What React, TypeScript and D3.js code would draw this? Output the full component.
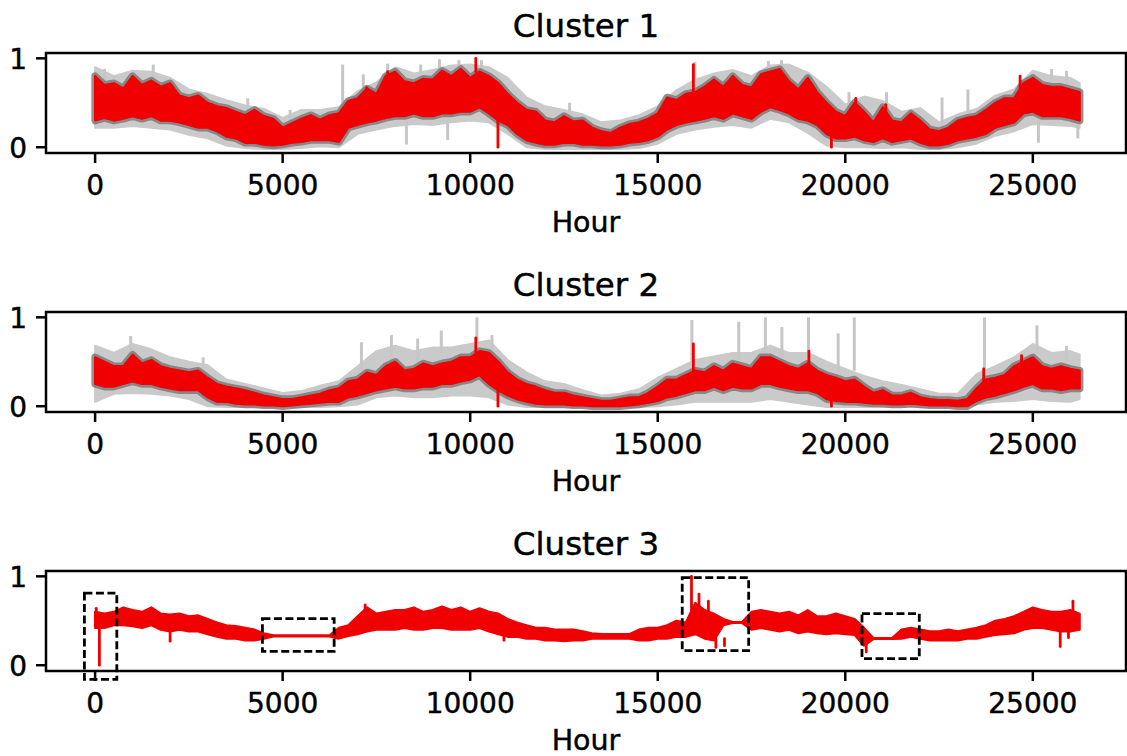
import React, { useEffect, useRef } from 'react';
import * as d3 from 'd3';

// sample grid (hours) for the centroid band and the member envelope
const hours = [
    0, 250, 500, 750, 1000, 1250, 1500, 1750, 2000, 2250,
    2500, 2750, 3000, 3250, 3500, 3750, 4000, 4250, 4500, 4750,
    5000, 5250, 5500, 5750, 6000, 6250, 6500, 6750, 7000, 7250,
    7500, 7750, 8000, 8250, 8500, 8750, 9000, 9250, 9500, 9750,
    10000, 10250, 10500, 10750, 11000, 11250, 11500, 11750, 12000, 12250,
    12500, 12750, 13000, 13250, 13500, 13750, 14000, 14250, 14500, 14750,
    15000, 15250, 15500, 15750, 16000, 16250, 16500, 16750, 17000, 17250,
    17500, 17750, 18000, 18250, 18500, 18750, 19000, 19250, 19500, 19750,
    20000, 20250, 20500, 20750, 21000, 21250, 21500, 21750, 22000, 22250,
    22500, 22750, 23000, 23250, 23500, 23750, 24000, 24250, 24500, 24750,
    25000, 25250, 25500, 25750, 26000, 26250,
];
const grayHours = [
    0, 500, 1000, 1500, 2000, 2500, 3000, 3500, 4000, 4500,
    5000, 5500, 6000, 6500, 7000, 7500, 8000, 8500, 9000, 9500,
    10000, 10500, 11000, 11500, 12000, 12500, 13000, 13500, 14000, 14500,
    15000, 15500, 16000, 16500, 17000, 17500, 18000, 18500, 19000, 19500,
    20000, 20500, 21000, 21500, 22000, 22500, 23000, 23500, 24000, 24500,
    25000, 25500, 26000, 26250,
];

// Cluster 1
const c1RedHi = [
    0.80, 0.70, 0.72, 0.66, 0.80, 0.70, 0.75, 0.68, 0.72, 0.58,
    0.55, 0.58, 0.50, 0.46, 0.44, 0.40, 0.36, 0.42, 0.35, 0.32,
    0.22, 0.27, 0.32, 0.36, 0.31, 0.36, 0.38, 0.52, 0.55, 0.66,
    0.60, 0.80, 0.85, 0.74, 0.72, 0.77, 0.76, 0.86, 0.80, 0.88,
    0.78, 0.85, 0.80, 0.72, 0.60, 0.50, 0.42, 0.40, 0.30, 0.28,
    0.35, 0.29, 0.30, 0.22, 0.18, 0.16, 0.22, 0.26, 0.28, 0.32,
    0.38, 0.56, 0.53, 0.60, 0.62, 0.68, 0.76, 0.68, 0.80, 0.70,
    0.67, 0.82, 0.85, 0.88, 0.74, 0.65, 0.78, 0.62, 0.50, 0.40,
    0.35, 0.50, 0.40, 0.28, 0.45, 0.30, 0.28, 0.38, 0.30, 0.20,
    0.18, 0.22, 0.30, 0.33, 0.35, 0.42, 0.50, 0.55, 0.55, 0.72,
    0.78, 0.70, 0.68, 0.68, 0.65, 0.62,
];
const c1RedLo = [
    0.30, 0.33, 0.30, 0.32, 0.35, 0.32, 0.35, 0.30, 0.30, 0.28,
    0.25, 0.22, 0.22, 0.18, 0.12, 0.10, 0.05, 0.05, 0.03, 0.02,
    0.03, 0.05, 0.06, 0.08, 0.08, 0.08, 0.06, 0.22, 0.25, 0.28,
    0.30, 0.33, 0.35, 0.35, 0.38, 0.35, 0.35, 0.38, 0.38, 0.40,
    0.40, 0.45, 0.38, 0.30, 0.25, 0.15, 0.08, 0.05, 0.03, 0.03,
    0.05, 0.05, 0.03, 0.03, 0.02, 0.02, 0.03, 0.05, 0.06, 0.08,
    0.12, 0.20, 0.25, 0.28, 0.30, 0.32, 0.35, 0.32, 0.38, 0.35,
    0.32, 0.40, 0.45, 0.42, 0.38, 0.32, 0.30, 0.25, 0.15, 0.10,
    0.10, 0.12, 0.08, 0.06, 0.10, 0.06, 0.08, 0.10, 0.05, 0.02,
    0.02, 0.04, 0.08, 0.10, 0.12, 0.15, 0.22, 0.25, 0.28, 0.38,
    0.40, 0.35, 0.35, 0.35, 0.33, 0.30,
];
const c1GrayHi = [
    0.90, 0.80, 0.86, 0.85, 0.78, 0.65, 0.60, 0.53, 0.47, 0.43,
    0.33, 0.42, 0.42, 0.45, 0.63, 0.73, 0.90, 0.83, 0.87, 0.92,
    0.93, 0.90, 0.78, 0.56, 0.46, 0.42, 0.37, 0.28, 0.30, 0.36,
    0.46, 0.64, 0.76, 0.83, 0.87, 0.80, 0.92, 0.93, 0.84, 0.68,
    0.48, 0.57, 0.52, 0.40, 0.44, 0.28, 0.37, 0.43, 0.58, 0.65,
    0.86, 0.80, 0.78, 0.72,
];
const c1GrayLo = [
    0.22, 0.22, 0.24, 0.22, 0.20, 0.14, 0.10, 0.02, -0.01, -0.02,
    -0.02, -0.01, 0.01, 0.00, 0.15, 0.20, 0.24, 0.26, 0.25, 0.28,
    0.30, 0.28, 0.15, 0.00, -0.02, -0.02, -0.02, -0.02, -0.02, -0.01,
    0.04, 0.15, 0.20, 0.23, 0.25, 0.22, 0.32, 0.28, 0.16, 0.02,
    0.00, 0.00, -0.01, 0.00, -0.02, -0.02, 0.00, 0.04, 0.13, 0.18,
    0.26, 0.25, 0.24, 0.22,
];
// [hour, from, to]
const c1RedSpikes = [
    [10150, 0.85, 1.0], [15950, 0.6, 0.93], [10740, 0.3, 0.0],
    [19630, 0.3, 0.0], [24660, 0.5, 0.8], [7240, 0.5, 0.67],
    [7800, 0.6, 0.85], [20280, 0.3, 0.55], [21080, 0.3, 0.48],
];
const c1GraySpikes = [
    [250, 0.7, 0.88], [1550, 0.75, 0.93], [4070, 0.3, 0.55], [5200, 0.25, 0.42],
    [6600, 0.4, 0.93], [7150, 0.5, 0.82], [7800, 0.7, 0.94], [8680, 0.7, 0.93],
    [9180, 0.7, 0.99], [9700, 0.85, 0.98], [10300, 0.85, 0.98], [12650, 0.3, 0.5],
    [15990, 0.7, 0.96], [17950, 0.85, 0.97], [18300, 0.88, 0.98], [20100, 0.4, 0.62],
    [21100, 0.45, 0.62], [22580, 0.2, 0.56], [23270, 0.3, 0.65], [25500, 0.75, 0.88],
    [25900, 0.7, 0.86], [8300, 0.3, 0.03], [9400, 0.3, 0.08], [25150, 0.3, 0.05],
    [26200, 0.25, 0.1],
];

// Cluster 2
const c2RedHi = [
    0.55, 0.50, 0.45, 0.45, 0.58, 0.48, 0.52, 0.45, 0.42, 0.40,
    0.38, 0.40, 0.32, 0.25, 0.22, 0.20, 0.18, 0.15, 0.12, 0.10,
    0.08, 0.08, 0.10, 0.12, 0.14, 0.18, 0.20, 0.28, 0.30, 0.38,
    0.35, 0.45, 0.50, 0.40, 0.42, 0.48, 0.45, 0.48, 0.50, 0.55,
    0.55, 0.62, 0.60, 0.50, 0.38, 0.30, 0.25, 0.22, 0.18, 0.15,
    0.15, 0.12, 0.10, 0.08, 0.06, 0.06, 0.08, 0.10, 0.10, 0.15,
    0.22, 0.30, 0.30, 0.35, 0.40, 0.38, 0.45, 0.40, 0.48, 0.45,
    0.42, 0.55, 0.55, 0.50, 0.45, 0.42, 0.48, 0.40, 0.35, 0.32,
    0.28, 0.30, 0.22, 0.15, 0.18, 0.12, 0.12, 0.15, 0.10, 0.08,
    0.07, 0.07, 0.06, 0.08, 0.20, 0.30, 0.32, 0.35, 0.45, 0.50,
    0.55, 0.45, 0.42, 0.45, 0.42, 0.40,
];
const c2RedLo = [
    0.25, 0.22, 0.22, 0.25, 0.28, 0.25, 0.25, 0.22, 0.20, 0.18,
    0.18, 0.18, 0.10, 0.05, 0.05, 0.03, 0.02, 0.02, 0.01, 0.01,
    0.00, 0.01, 0.02, 0.03, 0.04, 0.05, 0.05, 0.10, 0.12, 0.15,
    0.18, 0.20, 0.22, 0.20, 0.20, 0.22, 0.22, 0.25, 0.25, 0.28,
    0.30, 0.35, 0.25, 0.18, 0.12, 0.08, 0.05, 0.03, 0.02, 0.02,
    0.02, 0.01, 0.01, 0.00, 0.00, 0.00, 0.00, 0.01, 0.02, 0.04,
    0.06, 0.10, 0.12, 0.15, 0.18, 0.18, 0.22, 0.18, 0.22, 0.20,
    0.20, 0.25, 0.25, 0.22, 0.20, 0.18, 0.18, 0.15, 0.08, 0.06,
    0.05, 0.05, 0.04, 0.03, 0.03, 0.02, 0.02, 0.03, 0.02, 0.01,
    0.01, 0.01, 0.00, 0.00, 0.06, 0.10, 0.12, 0.15, 0.18, 0.22,
    0.25, 0.20, 0.20, 0.18, 0.20, 0.20,
];
const c2GrayHi = [
    0.68, 0.60, 0.70, 0.64, 0.55, 0.50, 0.46, 0.30, 0.25, 0.20,
    0.15, 0.17, 0.23, 0.28, 0.45, 0.62, 0.68, 0.62, 0.66, 0.66,
    0.70, 0.74, 0.52, 0.38, 0.28, 0.25, 0.18, 0.12, 0.14, 0.19,
    0.32, 0.42, 0.52, 0.56, 0.60, 0.60, 0.68, 0.60, 0.60, 0.50,
    0.42, 0.34, 0.28, 0.24, 0.19, 0.14, 0.14, 0.36, 0.45, 0.55,
    0.70, 0.60, 0.62, 0.58,
];
const c2GrayLo = [
    0.05, 0.14, 0.15, 0.14, 0.12, 0.08, 0.00, -0.01, -0.01, -0.01,
    -0.01, -0.01, -0.01, 0.00, 0.02, 0.10, 0.12, 0.10, 0.10, 0.12,
    0.12, 0.10, 0.02, -0.01, -0.01, -0.01, -0.01, -0.01, -0.01, -0.01,
    0.00, 0.02, 0.05, 0.05, 0.05, 0.05, 0.08, 0.05, 0.02, -0.01,
    -0.01, -0.01, -0.01, -0.01, -0.01, -0.01, -0.01, 0.02, 0.05, 0.06,
    0.08, 0.06, 0.05, 0.08,
];
const c2RedSpikes = [
    [10150, 0.6, 0.77], [15950, 0.4, 0.70], [19030, 0.45, 0.62], [10740, 0.2, 0.0],
    [19630, 0.15, 0.0], [23690, 0.1, 0.42], [24700, 0.4, 0.57],
];
const c2GraySpikes = [
    [950, 0.6, 0.79], [2880, 0.45, 0.55], [7100, 0.4, 0.72], [7900, 0.5, 0.80],
    [8600, 0.5, 0.76], [9230, 0.6, 0.85], [10180, 0.7, 1.0], [10580, 0.6, 0.80],
    [15910, 0.5, 0.97], [17160, 0.5, 0.95], [17870, 0.55, 1.0], [18310, 0.5, 0.89],
    [19020, 0.55, 1.0], [19810, 0.4, 0.82], [20240, 0.4, 1.0], [23710, 0.2, 1.0],
    [25110, 0.6, 0.91], [25900, 0.5, 0.68],
];

// Cluster 3
const c3RedHi = [
    0.60, 0.58, 0.60, 0.65, 0.62, 0.60, 0.65, 0.58, 0.57, 0.58,
    0.55, 0.56, 0.52, 0.48, 0.45, 0.44, 0.42, 0.40, 0.36, 0.335,
    0.335, 0.335, 0.335, 0.335, 0.335, 0.335, 0.42, 0.45, 0.55, 0.65,
    0.58, 0.60, 0.62, 0.62, 0.65, 0.60, 0.62, 0.66, 0.62, 0.65,
    0.60, 0.64, 0.60, 0.58, 0.52, 0.48, 0.45, 0.42, 0.42, 0.40,
    0.40, 0.40, 0.38, 0.36, 0.35, 0.35, 0.35, 0.35, 0.40, 0.42,
    0.42, 0.45, 0.50, 0.48, 0.70, 0.62, 0.58, 0.52, 0.485, 0.485,
    0.60, 0.62, 0.60, 0.58, 0.60, 0.56, 0.62, 0.55, 0.55, 0.58,
    0.55, 0.52, 0.42, 0.305, 0.305, 0.305, 0.40, 0.42, 0.40, 0.38,
    0.38, 0.40, 0.38, 0.40, 0.42, 0.45, 0.50, 0.52, 0.55, 0.60,
    0.65, 0.62, 0.60, 0.60, 0.62, 0.58,
];
const c3RedLo = [
    0.42, 0.42, 0.45, 0.45, 0.44, 0.42, 0.45, 0.40, 0.38, 0.40,
    0.38, 0.38, 0.35, 0.32, 0.30, 0.30, 0.28, 0.28, 0.30, 0.325,
    0.325, 0.325, 0.325, 0.325, 0.325, 0.325, 0.30, 0.33, 0.35, 0.38,
    0.40, 0.40, 0.40, 0.42, 0.40, 0.40, 0.42, 0.42, 0.40, 0.40,
    0.40, 0.42, 0.38, 0.35, 0.32, 0.32, 0.30, 0.30, 0.28, 0.28,
    0.27, 0.28, 0.28, 0.30, 0.30, 0.30, 0.30, 0.30, 0.28, 0.28,
    0.30, 0.30, 0.32, 0.32, 0.35, 0.30, 0.28, 0.45, 0.475, 0.475,
    0.40, 0.42, 0.40, 0.38, 0.40, 0.36, 0.38, 0.36, 0.35, 0.36,
    0.35, 0.34, 0.22, 0.295, 0.295, 0.295, 0.30, 0.32, 0.30, 0.28,
    0.28, 0.28, 0.28, 0.30, 0.30, 0.32, 0.34, 0.35, 0.36, 0.40,
    0.42, 0.42, 0.40, 0.38, 0.38, 0.40,
];
const c3RedSpikes = [
    [115, 0.45, 0.0], [30, 0.5, 0.64], [2000, 0.38, 0.27], [7200, 0.5, 0.68],
    [10900, 0.35, 0.28], [15900, 0.5, 1.0], [16100, 0.5, 0.80], [16350, 0.5, 0.72],
    [16550, 0.3, 0.20], [16780, 0.3, 0.22], [20560, 0.3, 0.15], [25730, 0.4, 0.21],
    [25950, 0.4, 0.31], [26070, 0.5, 0.72],
];
// dashed boxes: [hourStart, hourEnd, low, high]
const c3Boxes = [
    [-285, 579, -0.16, 0.81],
    [4461, 6373, 0.155, 0.525],
    [15653, 17424, 0.165, 0.985],
    [20445, 21973, 0.075, 0.58],
];

const xTicks = [0, 5000, 10000, 15000, 20000, 25000];
const yTicks = [0, 1];
const titles = ['Cluster 1', 'Cluster 2', 'Cluster 3'];
const axisTops = [53, 312, 571];

const panels = [
    { redHi: c1RedHi, redLo: c1RedLo, grayHi: c1GrayHi, grayLo: c1GrayLo, redSpikes: c1RedSpikes, graySpikes: c1GraySpikes, boxes: [] as number[][] },
    { redHi: c2RedHi, redLo: c2RedLo, grayHi: c2GrayHi, grayLo: c2GrayLo, redSpikes: c2RedSpikes, graySpikes: c2GraySpikes, boxes: [] as number[][] },
    { redHi: c3RedHi, redLo: c3RedLo, grayHi: null, grayLo: null, redSpikes: c3RedSpikes, graySpikes: [] as number[][], boxes: c3Boxes },
];

const App: React.FC = () => {
    const svgRef = useRef<SVGSVGElement>(null);

    useEffect(() => {
        if (!svgRef.current) return;
        document.body.style.margin = '0';

        const width = 1127;
        const height = 756;
        const axH = 100;
        const font = "'DejaVu Sans', sans-serif";
        const red = '#f00000';

        const svg = d3.select(svgRef.current)
            .attr('width', width)
            .attr('height', height);
        svg.selectAll('*').remove();

        svg.append('rect').attr('width', width).attr('height', height).attr('fill', '#fff');

        const x = d3.scaleLinear().domain([-1309, 27484]).range([46, 1126]);

        const label = (g: any, tx: number, ty: number, txt: string, size: number, anchor: string) =>
            g.append('text')
                .attr('x', tx)
                .attr('y', ty)
                .attr('text-anchor', anchor)
                .style('font-family', font)
                .style('font-size', `${size}px`)
                .style('fill', '#000')
                .style('stroke', '#000')
                .style('stroke-width', 0.45)
                .text(txt);

        panels.forEach((p, k) => {
            const top = axisTops[k];
            const y = d3.scaleLinear().domain([-0.065, 1.06]).range([top + axH, top]);
            const g = svg.append('g');

            // member series envelope
            if (p.grayHi && p.grayLo) {
                const grayArea = d3.area<number>()
                    .x((_, i) => x(grayHours[i]))
                    .y0((_, i) => y(p.grayLo![i]))
                    .y1(d => y(d));
                g.append('path')
                    .attr('d', grayArea(p.grayHi))
                    .attr('fill', '#cacaca')
                    .attr('stroke', '#cacaca')
                    .attr('stroke-width', 2)
                    .attr('stroke-linejoin', 'round');

                g.selectAll('.gspike')
                    .data(p.graySpikes)
                    .enter()
                    .append('line')
                    .attr('x1', d => x(d[0]))
                    .attr('x2', d => x(d[0]))
                    .attr('y1', d => y(d[1]))
                    .attr('y2', d => y(d[2]))
                    .attr('stroke', '#c6c6c6')
                    .attr('stroke-width', 3);
            }

            const band = d3.area<number>()
                .x((_, i) => x(hours[i]))
                .y0((_, i) => y(p.redLo[i]))
                .y1(d => y(d));

            // darker overlap of members around the centroid
            if (p.grayHi) {
                g.append('path')
                    .attr('d', band(p.redHi))
                    .attr('fill', '#757575')
                    .attr('stroke', '#757575')
                    .attr('stroke-opacity', 0.8)
                    .attr('stroke-width', 7.5)
                    .attr('stroke-linejoin', 'round');
            }

            // centroid
            g.append('path')
                .attr('d', band(p.redHi))
                .attr('fill', red)
                .attr('stroke', red)
                .attr('stroke-width', 2.2)
                .attr('stroke-linejoin', 'round');

            g.selectAll('.rspike')
                .data(p.redSpikes)
                .enter()
                .append('line')
                .attr('x1', d => x(d[0]))
                .attr('x2', d => x(d[0]))
                .attr('y1', d => y(d[1]))
                .attr('y2', d => y(d[2]))
                .attr('stroke', red)
                .attr('stroke-width', 2.8)
                .attr('stroke-linecap', 'round');

            // frame
            g.append('rect')
                .attr('x', x.range()[0])
                .attr('y', top)
                .attr('width', x.range()[1] - x.range()[0])
                .attr('height', axH)
                .attr('fill', 'none')
                .attr('stroke', '#000')
                .attr('stroke-width', 2.5);

            // annotation boxes
            g.selectAll('.box')
                .data(p.boxes)
                .enter()
                .append('rect')
                .attr('x', d => x(d[0]))
                .attr('y', d => y(d[3]))
                .attr('width', d => x(d[1]) - x(d[0]))
                .attr('height', d => y(d[2]) - y(d[3]))
                .attr('fill', 'none')
                .attr('stroke', '#000')
                .attr('stroke-width', 2.8)
                .attr('stroke-dasharray', '8,3.5');

            // x ticks
            xTicks.forEach(t => {
                g.append('line')
                    .attr('x1', x(t)).attr('x2', x(t))
                    .attr('y1', top + axH).attr('y2', top + axH + 10)
                    .attr('stroke', '#000').attr('stroke-width', 2.5);
                label(g, x(t), top + axH + 42, String(t), 28, 'middle');
            });

            // y ticks
            yTicks.forEach(t => {
                g.append('line')
                    .attr('x1', x.range()[0] - 10).attr('x2', x.range()[0])
                    .attr('y1', y(t)).attr('y2', y(t))
                    .attr('stroke', '#000').attr('stroke-width', 2.5);
                label(g, x.range()[0] - 19, y(t) + 10.5, String(t), 28, 'end');
            });

            label(g, (x.range()[0] + x.range()[1]) / 2, top - 16, titles[k], 32.5, 'middle');
            label(g, (x.range()[0] + x.range()[1]) / 2, top + axH + 79, 'Hour', 28.5, 'middle');
        });
    }, []);

    return <svg ref={svgRef} style={{ display: 'block' }}></svg>;
};

export default App;
